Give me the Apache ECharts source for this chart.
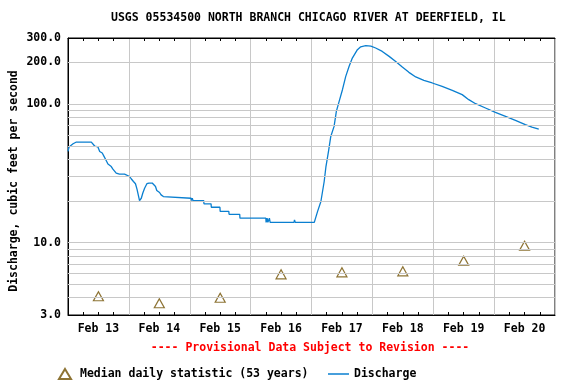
<!DOCTYPE html>
<html>
<head>
<meta charset="utf-8">
<script src="https://cdn.jsdelivr.net/npm/echarts@6/dist/echarts.min.js"></script>
<style>html,body{margin:0;padding:0;background:#fff}#c{width:576px;height:384px}</style>
</head>
<body>
<div id="c"></div>
<script>
// x values are hours since Feb 13 00:00
var dayLabels = ['Feb 13','Feb 14','Feb 15','Feb 16','Feb 17','Feb 18','Feb 19','Feb 20'];
var yTickLabels = [3, 10, 100, 200, 300];
var yGridValues = [4,5,6,7,8,9,10,20,30,40,50,60,70,80,90,100,200];
var medianHours = [12,36,60,84,108,132,156,180];
var medianCfs = [4.1, 3.65, 4.0, 5.9, 6.1, 6.2, 7.4, 9.5];
var dischargeHours = [0,0.4,2.0,3.3,9.2,9.85,10.5,11.8,12.5,13.5,14.2,15.1,15.75,17.06,17.7,19.0,20.3,21.0,22.3,23.0,
  24.3,24.9,25.8,26.6,27.2,27.7,28.2,28.9,29.5,30.2,31.1,31.9,33.2,33.7,34.5,35.0,36.1,36.7,37.6,38.0,
  48.5,48.7,49.0,49.3,53.5,53.6,56.4,56.5,59.9,60.0,63.4,63.5,67.7,67.8,78.0,78.1,78.5,78.8,79.4,79.7,
  89.1,89.3,89.6,97.1,97.4,98.4,99.7,101.0,101.7,102.7,103.6,104.9,105.8,106.9,108.2,109.5,110.8,112.1,114.1,
  115.4,117.4,119.4,121.3,123.9,126.6,129.2,131.8,134.4,137.1,140.3,143.6,147.5,151.5,155.4,158.0,160.7,
  164.6,168.5,172.5,176.4,180.3,182.9,185.6];
var dischargeCfs = [45.5,49,51.7,53.2,53.2,51.7,49.8,49,45.5,44.3,41.9,39,36.9,35.4,33.9,31.7,31.2,31.7,31.2,30.5,
  30,28.9,27.6,26.6,24.3,22.1,20.1,20.9,22.8,24.7,26.6,26.9,26.9,26.1,25.4,23.8,23.0,22.1,21.5,20.9,
  20.9,20.1,20.9,20.1,20.1,19.05,19.05,18.0,18.0,16.8,16.8,16.0,16.0,15.0,15.0,14.0,15.0,14.0,15.0,14.0,
  14.0,14.6,14.0,14.0,14.4,16.8,19.8,27.6,35.4,45.5,58.4,69,88.5,104.6,127,158.6,187,215,247,
  259,264,262,254,240,221,203,185,169.5,157,148.4,142,134,125.6,117,107.6,100.6,
  93.7,87,81.5,76.2,71,68.2,66];

var FONT = 'DejaVu Sans Mono';
var LINE_COLOR = '#0a7fd0';
var discharge = dischargeHours.map(function(h,i){return [h, dischargeCfs[i]];});
var median = medianHours.map(function(h,i){return [h, medianCfs[i]];});
var labelCenters = dayLabels.map(function(d,i){return 12 + 24*i;});

var chart = echarts.init(document.getElementById('c'), null, {renderer:'canvas'});
chart.setOption({
  animation: false,
  backgroundColor: '#fff',
  grid: {left: 68, top: 38, width: 487, height: 277, show: true, borderColor: '#000', borderWidth: 1, backgroundColor: 'transparent'},
  xAxis: [{
    type: 'value', min: 0, max: 192, interval: 24,
    axisLine: {show: true, lineStyle: {color: '#000', width: 1}},
    axisTick: {show: false, inside: true},
    minorTick: {show: true, splitNumber: 4, length: 3, lineStyle: {color: '#000', width: 1}},
    splitLine: {show: true, lineStyle: {color: '#c8c8c8', width: 1}},
    axisLabel: {
      customValues: labelCenters,
      margin: 8,
      fontFamily: FONT, fontWeight: 'bold', fontSize: 11.5, color: '#000',
      formatter: function(v){ return dayLabels[Math.round((v-12)/24)] || ''; }
    }
  }, {
    type: 'value', position: 'top', min: 0, max: 192, interval: 24,
    axisLine: {show: true, lineStyle: {color: '#000', width: 1}},
    axisTick: {show: false, inside: true},
    minorTick: {show: true, splitNumber: 4, length: 3, lineStyle: {color: '#000', width: 1}},
    splitLine: {show: false},
    axisLabel: {show: false}
  }],
  yAxis: {
    type: 'log', logBase: 10, min: 3, max: 300,
    axisLine: {show: true, lineStyle: {color: '#000', width: 1}},
    axisTick: {show: false},
    splitLine: {show: false},
    axisLabel: {
      customValues: yTickLabels,
      margin: 7,
      fontFamily: FONT, fontWeight: 'bold', fontSize: 11.5, color: '#000',
      formatter: function(v){ return Number(v).toFixed(1); }
    }
  },
  legend: [{
    data: ['Median daily statistic (53 years)'],
    left: 58, top: 368, itemWidth: 12, itemHeight: 10, padding: 0,
    textStyle: {fontFamily: FONT, fontWeight: 'bold', fontSize: 11.5, color: '#000', padding: [0, 0, 0, 4]}
  }, {
    data: [{name: 'Discharge', icon: 'rect'}],
    left: 328, top: 368, itemWidth: 21, itemHeight: 1.5, padding: 0,
    textStyle: {fontFamily: FONT, fontWeight: 'bold', fontSize: 11.5, color: '#000'}
  }],
  graphic: [{
    type: 'text', left: 311 - 200, top: 12,
    style: {text: 'USGS 05534500 NORTH BRANCH CHICAGO RIVER AT DEERFIELD, IL', fontFamily: FONT, fontWeight: 'bold', fontSize: 11.5, fill: '#000'}
  }, {
    type: 'text', x: 14, y: 181, rotation: Math.PI/2,
    style: {text: 'Discharge, cubic feet per second', fontFamily: FONT, fontWeight: 'bold', fontSize: 11.5, fill: '#000', align: 'center', verticalAlign: 'middle'}
  }, {
    type: 'text', x: 310, y: 348,
    style: {text: '---- Provisional Data Subject to Revision ----', fontFamily: FONT, fontWeight: 'bold', fontSize: 11.5, fill: '#ff0000', align: 'center', verticalAlign: 'middle'}
  }],
  series: [{
    name: 'grid', type: 'line', data: [], z: 1, silent: true,
    markLine: {
      silent: true, symbol: 'none', animation: false,
      label: {show: false},
      lineStyle: {color: '#c8c8c8', width: 1, type: 'solid'},
      emphasis: {disabled: true},
      data: yGridValues.map(function(v){return {yAxis: v};})
    }
  }, {
    name: 'Median daily statistic (53 years)', type: 'scatter', data: median, z: 3,
    symbol: 'triangle', symbolSize: [10, 9],
    itemStyle: {color: '#fff', borderColor: '#705000', borderWidth: 1.2}
  }, {
    name: 'Discharge', type: 'line', data: discharge, z: 4,
    symbol: 'none', showSymbol: false,
    itemStyle: {color: LINE_COLOR},
    lineStyle: {color: LINE_COLOR, width: 1.3}
  }]
});
</script>
</body>
</html>
